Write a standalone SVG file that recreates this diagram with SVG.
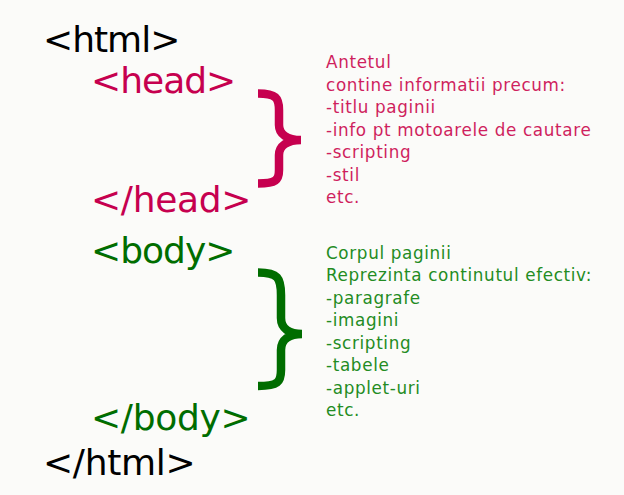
<svg xmlns="http://www.w3.org/2000/svg" width="624" height="495" viewBox="0 0 624 495">
<style>
.tag{font-family:"DejaVu Sans",sans-serif;font-size:36px;letter-spacing:-1px}
.tag.c{letter-spacing:-0.3px}
.note{font-family:"DejaVu Sans",sans-serif;font-size:16.8px;letter-spacing:0.65px}
.k{fill:#000}
.r{fill:#c6004f}
.g{fill:#006d00}
.rn{fill:#cf1f5e}
.gn{fill:#238c23}
.brace{fill:none;stroke-width:8.5;stroke-linejoin:miter}
</style>
<rect width="624" height="495" fill="#fbfbf9"/>
<g id="html-open"><text class="tag k" x="43" y="52">&lt;html&gt;</text></g>
<g id="head-open"><text class="tag r" x="91" y="93">&lt;head&gt;</text></g>
<g id="head-close"><text class="tag c r" x="91" y="212">&lt;/head&gt;</text></g>
<g id="body-open"><text class="tag g" x="91" y="263">&lt;body&gt;</text></g>
<g id="body-close"><text class="tag c g" x="91" y="430">&lt;/body&gt;</text></g>
<g id="html-close"><text class="tag c k" x="43" y="475">&lt;/html&gt;</text></g>
<g id="connectors">
<path class="brace" stroke="#c6004f" d="M258,93.5 C276,93.5 279,98 279,110 L279,125 C279,134 287,140 301,140 C287,140 279,146 279,155 L279,170 C279,180 276,183.5 258,183.5"/>
<path class="brace" stroke="#006d00" stroke-width="10" d="M258,272.5 C278,272.5 281,278 281,295 L281,318 C281,328 289,334 302,334 C289,334 281,340 281,350 L281,370 C281,382 278,386 258,386"/>
</g>
<g id="head-note" class="note rn">
<text x="326" y="68">Antetul</text>
<text x="326" y="91">contine informatii precum:</text>
<text x="326" y="113">-titlu paginii</text>
<text x="326" y="136">-info pt motoarele de cautare</text>
<text x="326" y="158">-scripting</text>
<text x="326" y="181">-stil</text>
<text x="326" y="203">etc.</text>
</g>
<g id="body-note" class="note gn">
<text x="326" y="259">Corpul paginii</text>
<text x="326" y="281">Reprezinta continutul efectiv:</text>
<text x="326" y="304">-paragrafe</text>
<text x="326" y="326">-imagini</text>
<text x="326" y="349">-scripting</text>
<text x="326" y="371">-tabele</text>
<text x="326" y="394">-applet-uri</text>
<text x="326" y="416">etc.</text>
</g>
</svg>
